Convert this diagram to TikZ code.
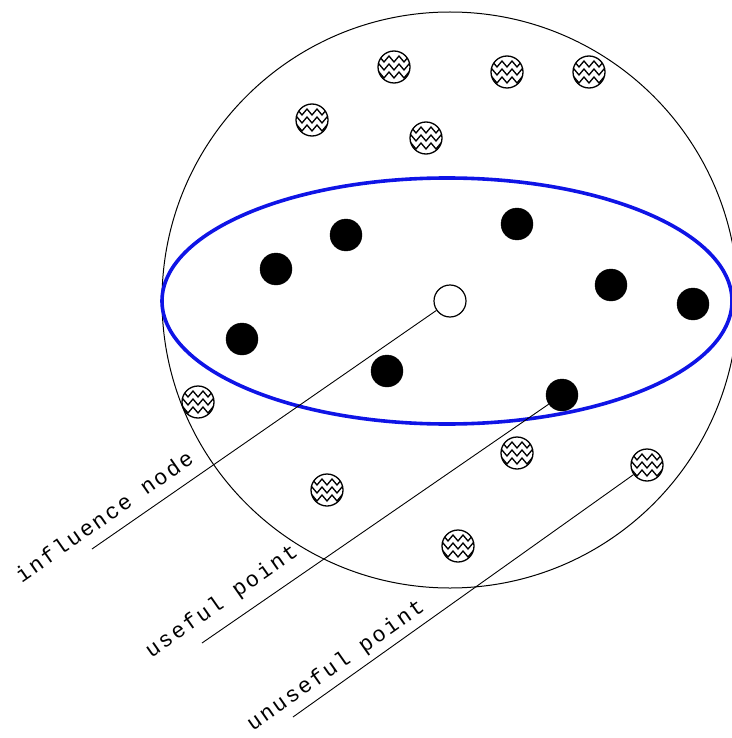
\documentclass[tikz,border=0pt]{standalone}
\usepackage{fontspec}
\newfontfamily\cadfont[LetterSpace=10]{Liberation Mono}
\definecolor{ringblue}{RGB}{15,20,230}
\begin{document}
\begin{tikzpicture}[x=1pt,y=-1pt,
  solid dot/.style={circle,fill=black,draw=black,minimum size=32pt,inner sep=0pt},
  open dot/.style={circle,fill=white,draw=black,line width=1.2pt,minimum size=32pt,inner sep=0pt},
  hatch dot/.style={circle,draw=black,line width=1.3pt,minimum size=32pt,inner sep=0pt,
    path picture={
      \begin{scope}[shift={(path picture bounding box.center)},line width=1.3pt]
        \foreach \yy in {-8,0,8}{
          \draw (-20,\yy+3) -- (-15,\yy-3) -- (-10,\yy+3) -- (-5,\yy-3) -- (0,\yy+3) -- (5,\yy-3) -- (10,\yy+3) -- (15,\yy-3) -- (20,\yy+3);
        }
      \end{scope}
    }},
  label text/.style={font=\cadfont\fontsize{22}{22}\selectfont,rotate=35,inner sep=0pt},
  leader/.style={line width=0.9pt}
]
\path[use as bounding box] (0,0) rectangle (731,738);

% sphere and equator
\node[circle,draw=black,line width=1pt,minimum size=576pt,inner sep=0pt] (sphere) at (450,300) {};
\draw[ringblue,line width=3.6pt] (447,301) ellipse [x radius=285,y radius=123];

% points
\node[open dot] (w) at (450,301) {};
\node[solid dot] (b1) at (346,235) {};
\node[solid dot] (b2) at (276,269) {};
\node[solid dot] (b3) at (517,224) {};
\node[solid dot] (b4) at (611,285) {};
\node[solid dot] (b5) at (693,304) {};
\node[solid dot] (b6) at (242,339) {};
\node[solid dot] (b7) at (387,371) {};
\node[solid dot] (b8) at (562,395) {};

\node[hatch dot] (h1) at (394,67) {};
\node[hatch dot] (h2) at (507,72) {};
\node[hatch dot] (h3) at (589,72) {};
\node[hatch dot] (h4) at (312,120) {};
\node[hatch dot] (h5) at (426,138) {};
\node[hatch dot] (h6) at (198,402) {};
\node[hatch dot] (h7) at (517,453) {};
\node[hatch dot] (h8) at (647,465) {};
\node[hatch dot] (h9) at (327,490) {};
\node[hatch dot] (h10) at (458,546) {};

% leaders
\coordinate (e1) at (92,549);
\coordinate (e2) at (202,643);
\coordinate (e3) at (293,717);
\draw[leader] (w) -- (e1);
\draw[leader] (b8) -- (e2);
\draw[leader] (h8) -- (e3);

% labels
\node[label text] (t1) at (104,516) {influence node};
\node[label text] (t2) at (222,602) {useful point};
\node[label text] (t3) at (336,666) {unuseful point};
\end{tikzpicture}
\end{document}
